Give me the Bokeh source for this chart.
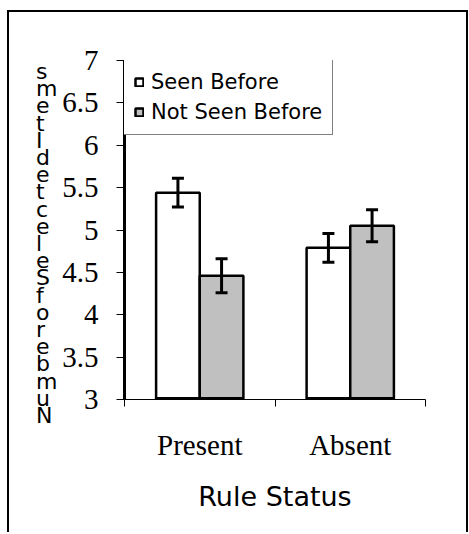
from bokeh.plotting import figure
from bokeh.layouts import row
from bokeh.models import (ColumnDataSource, FixedTicker, Whisker, TeeHead, Legend,
                          LegendItem, Div)
from bokeh.embed import file_html
from bokeh.resources import INLINE

# ---- data ----
categories = ["Present", "Absent"]
series_names = ["Seen Before", "Not Seen Before"]
seen = [5.44, 4.79]
seen_err = [0.17, 0.17]
not_seen = [4.46, 5.05]
not_seen_err = [0.20, 0.19]
y_ticks = [3, 3.5, 4, 4.5, 5, 5.5, 6, 6.5, 7]
y_tick_labels = ["3", "3.5", "4", "4.5", "5", "5.5", "6", "6.5", "7"]
x_title = "Rule Status"
y_title = "Number of Selected Items"

H = 520
LEFT_W = 50
BAR_W = 0.29
centers = [i + 0.5 for i in range(len(categories))]

src_seen = ColumnDataSource(dict(
    x=[c - BAR_W / 2 for c in centers], top=seen,
    upper=[v + e for v, e in zip(seen, seen_err)],
    lower=[v - e for v, e in zip(seen, seen_err)]))
src_not = ColumnDataSource(dict(
    x=[c + BAR_W / 2 for c in centers], top=not_seen,
    upper=[v + e for v, e in zip(not_seen, not_seen_err)],
    lower=[v - e for v, e in zip(not_seen, not_seen_err)]))

# ---- strip holding the stacked (upright, reversed) y title ----
letters = [ch for ch in reversed(y_title) if ch != " "]
ytitle = Div(text=('<div style="font-family:\'DejaVu Sans\';font-size:22px;'
                   'line-height:17.2px;color:black;padding:51px 0 0 27px;'
                   'margin:0">' + "<br>".join(letters) + "</div>"),
             width=LEFT_W, height=H, margin=(0, 0, 0, 0))

# ---- main chart ----
p = figure(width=457 - LEFT_W, height=H, output_backend="svg",
           toolbar_location=None,
           x_range=(0, len(categories)), y_range=(y_ticks[0], y_ticks[-1]),
           min_border_left=114 - LEFT_W, min_border_right=41, min_border_top=48,
           min_border_bottom=133)
p.outline_line_color = None
p.grid.visible = False
p.background_fill_color = "white"
p.border_fill_color = "white"

r1 = p.vbar(x="x", top="top", bottom=y_ticks[0], width=BAR_W, source=src_seen,
            fill_color="white", line_color="black", line_width=2.5)
r2 = p.vbar(x="x", top="top", bottom=y_ticks[0], width=BAR_W, source=src_not,
            fill_color="#c0c0c0", line_color="black", line_width=2.5)
# heavier base line of every bar, as in the source
for src in (src_seen, src_not):
    p.vbar(x="x", top=y_ticks[0], bottom=y_ticks[0], width=BAR_W, source=src,
           fill_color=None, line_color="black", line_width=5)

for src in (src_seen, src_not):
    w = Whisker(source=src, base="x", upper="upper", lower="lower",
                line_color="black", line_width=3, level="overlay",
                upper_head=TeeHead(size=12, line_width=3, line_color="black"),
                lower_head=TeeHead(size=12, line_width=3, line_color="black"))
    p.add_layout(w)

# x axis
xa = p.xaxis[0]
xa.ticker = FixedTicker(ticks=centers, minor_ticks=list(range(len(categories) + 1)))
xa.major_label_overrides = {c: name for c, name in zip(centers, categories)}
xa.major_tick_out = 0
xa.major_tick_in = 0
xa.minor_tick_out = 7
xa.minor_tick_in = 0
xa.minor_tick_line_color = "black"
xa.axis_line_color = "black"
xa.axis_line_width = 1
xa.major_label_text_font = "Liberation Serif"
xa.major_label_text_font_size = "29px"
xa.major_label_text_color = "black"
xa.major_label_standoff = 22
xa.axis_label = x_title
xa.axis_label_text_font = "DejaVu Sans"
xa.axis_label_text_font_size = "27px"
xa.axis_label_text_font_style = "normal"
xa.axis_label_text_color = "black"
xa.axis_label_standoff = 17

# y axis
ya = p.yaxis[0]
ya.ticker = FixedTicker(ticks=y_ticks, minor_ticks=[])
ya.major_label_overrides = {t: s for t, s in zip(y_ticks, y_tick_labels)}
ya.major_tick_out = 8
ya.major_tick_in = 0
ya.major_tick_line_color = "black"
ya.axis_line_color = "black"
ya.axis_line_width = 3
ya.major_label_text_font = "Liberation Serif"
ya.major_label_text_font_size = "29px"
ya.major_label_text_color = "black"
ya.major_label_standoff = 18

legend = Legend(items=[LegendItem(label=series_names[0], renderers=[r1]),
                       LegendItem(label=series_names[1], renderers=[r2])],
                location=(-1, 264), orientation="vertical",
                label_text_font="DejaVu Sans", label_text_font_size="21px",
                label_text_color="black", glyph_width=10, glyph_height=10,
                label_height=20, label_standoff=7, padding=10, spacing=6,
                margin=0, border_line_color="black", border_line_width=1.5,
                background_fill_alpha=1)
p.add_layout(legend)

layout = row(ytitle, p, spacing=0)
layout.styles = {"border-left": "2px solid black", "border-top": "2px solid black",
                 "border-right": "2px solid black", "margin-top": "10px",
                 "margin-left": "7px", "background-color": "white"}

open("out.html", "w").write(file_html(layout, INLINE))
